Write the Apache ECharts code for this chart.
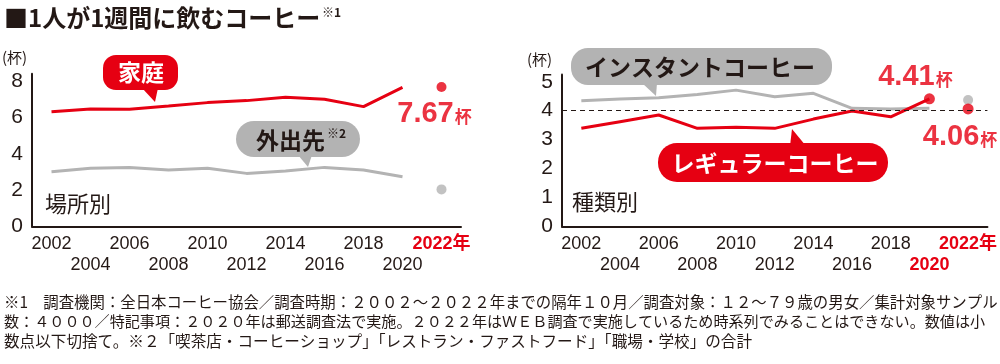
<!DOCTYPE html>
<html>
<head>
<meta charset="utf-8">
<script src="https://cdn.jsdelivr.net/npm/echarts@6/dist/echarts.min.js"></script>
<style>
html,body{margin:0;padding:0;background:#fff;}
#c{width:1000px;height:364px;}
</style>
</head>
<body>
<div id="c"></div>
<script>
// ---- data ----
const years = ['2002','2004','2006','2008','2010','2012','2014','2016','2018','2020','2022'];
const yTicksLeft = [0, 2, 4, 6, 8];
const yTicksRight = [0, 1, 2, 3, 4, 5];
// 場所別
const homeCups    = [6.31, 6.46, 6.44, 6.62, 6.81, 6.92, 7.10, 6.99, 6.59, 7.65, null];
const outsideCups = [3.01, 3.20, 3.25, 3.11, 3.20, 2.92, 3.05, 3.25, 3.11, 2.74, null];
const home2022 = 7.67;
const outside2022 = 2.04;
// 種類別
const instantCups = [4.34, 4.40, 4.45, 4.56, 4.71, 4.48, 4.60, 4.08, 4.06, 4.08, null];
const regularCups = [3.39, 3.62, 3.85, 3.39, 3.43, 3.39, 3.71, 3.99, 3.79, 4.41, null];
const instant2022 = 4.37;
const regular2022 = 4.06;
const regular2020 = 4.41;

const RED = '#e60012';
const GRAY = '#b3b3b3';
const INK = '#231815';
const NUM = "'Liberation Sans', Arial, 'Noto Sans CJK JP', sans-serif";
const JP = "'Noto Sans CJK JP', 'Noto Sans', sans-serif";

const chart = echarts.init(document.getElementById('c'), null, {renderer: 'canvas'});

function xAxisFor(gridIndex, redIdx) {
  return {
    type: 'category', gridIndex: gridIndex, data: years, boundaryGap: true,
    axisTick: {show: false},
    axisLine: {lineStyle: {color: INK, width: 2}},
    axisLabel: {
      interval: 0, margin: 7, fontSize: 18, lineHeight: 21, color: INK, fontFamily: NUM,
      formatter: function (v, i) {
        let t;
        if (i === years.length - 1) t = '{r|' + v + '年}';
        else if (redIdx.indexOf(i) >= 0) t = '{r|' + v + '}';
        else t = v;
        return (i % 2 === 1) ? '\n' + t : t;
      },
      rich: {r: {color: RED, fontWeight: 'bold', fontSize: 18, lineHeight: 21, fontFamily: NUM}}
    }
  };
}
function yAxisFor(gridIndex, max, interval) {
  return {
    type: 'value', gridIndex: gridIndex, min: 0, max: max, interval: interval,
    splitLine: {show: false}, axisTick: {show: false},
    axisLine: {show: true, lineStyle: {color: INK, width: 2}},
    axisLabel: {
      margin: 9, fontSize: 21, color: INK, fontFamily: NUM,
      formatter: function (v) { return Math.abs(v - Math.round(v)) < 1e-9 ? String(Math.round(v)) : ''; }
    }
  };
}
function pts(arr) { return arr.map((v, i) => [years[i], v]); }
function numLabel(txt, off) {
  return {
    show: true, position: 'inside', offset: off,
    formatter: '{n|' + txt + '}{u|杯}',
    rich: {
      n: {fontSize: 29, fontWeight: 'bold', color: RED, fontFamily: NUM},
      u: {fontSize: 17, fontWeight: 'bold', color: RED, fontFamily: JP, padding: [6, 0, 0, 1]}
    }
  };
}

const last = years[years.length - 1];
const prev = years[years.length - 2];

const option = {
  animation: false,
  backgroundColor: '#fff',
  grid: [
    {left: 32, top: 73.7, width: 429, height: 152.8},
    {left: 562, top: 74.5, width: 428, height: 152}
  ],
  xAxis: [xAxisFor(0, []), xAxisFor(1, [9])],
  yAxis: [yAxisFor(0, 8.4, 2), yAxisFor(1, 5.25, 1)],
  series: [
    {type: 'line', xAxisIndex: 0, yAxisIndex: 0, data: pts(homeCups), showSymbol: false, symbol: 'none',
     lineStyle: {color: RED, width: 3}, z: 3},
    {type: 'line', xAxisIndex: 0, yAxisIndex: 0, data: pts(outsideCups), showSymbol: false, symbol: 'none',
     lineStyle: {color: GRAY, width: 3}, z: 2},
    {type: 'scatter', xAxisIndex: 0, yAxisIndex: 0, symbolSize: 10, itemStyle: {color: RED},
     data: [{value: [last, home2022], label: numLabel(String(home2022), [-7, 27])}]},
    {type: 'scatter', xAxisIndex: 0, yAxisIndex: 0, symbolSize: 10, itemStyle: {color: GRAY},
     data: [[last, outside2022]]},

    {type: 'line', xAxisIndex: 1, yAxisIndex: 1, data: pts(instantCups), showSymbol: false, symbol: 'none',
     lineStyle: {color: GRAY, width: 3}, z: 2,
     markLine: {silent: true, symbol: 'none', label: {show: false},
       lineStyle: {color: INK, width: 1, type: [5, 4]}, data: [{yAxis: 4}]}},
    {type: 'line', xAxisIndex: 1, yAxisIndex: 1, data: pts(regularCups), showSymbol: false, symbol: 'none',
     lineStyle: {color: RED, width: 3}, z: 3},
    {type: 'scatter', xAxisIndex: 1, yAxisIndex: 1, symbolSize: 10, itemStyle: {color: GRAY}, z: 3,
     data: [[last, instant2022]]},
    {type: 'scatter', xAxisIndex: 1, yAxisIndex: 1, symbolSize: 11, itemStyle: {color: RED}, z: 4,
     data: [
       {value: [prev, regular2020], label: numLabel(regular2020.toFixed(2), [-14, -22])},
       {value: [last, regular2022], label: numLabel(regular2022.toFixed(2), [-8, 28])}
     ]}
  ],
  graphic: [
    // title
    {type: 'text', left: 4, top: 6, style: {text: '■1人が1週間に飲むコーヒー', font: 'bold 24px ' + JP, fill: INK}},
    {type: 'text', left: 322, top: 6, style: {text: '※1', font: 'bold 12px ' + JP, fill: INK}},
    // units
    {type: 'text', left: 2, top: 50, style: {text: '(杯)', font: '15px ' + JP, fill: INK}},
    {type: 'text', left: 527, top: 52, style: {text: '(杯)', font: '15px ' + JP, fill: INK}},
    // panel names
    {type: 'text', left: 45, top: 193, style: {text: '場所別', font: '22px ' + JP, fill: INK}},
    {type: 'text', left: 572, top: 191, style: {text: '種類別', font: '22px ' + JP, fill: INK}},
    // 家庭 bubble
    {type: 'rect', shape: {x: 103, y: 55, width: 75, height: 35, r: 13}, style: {fill: RED}},
    {type: 'polygon', shape: {points: [[142, 88], [158, 88], [155, 102]]}, style: {fill: RED}},
    {type: 'text', x: 141, y: 72, style: {text: '家庭', font: 'bold 23px ' + JP, fill: '#fff', align: 'center', verticalAlign: 'middle'}},
    // 外出先 bubble
    {type: 'rect', shape: {x: 236, y: 121, width: 124, height: 36, r: 18}, style: {fill: GRAY}},
    {type: 'polygon', shape: {points: [[298, 155], [312, 155], [308, 167]]}, style: {fill: GRAY}},
    {type: 'text', x: 256, y: 140, style: {text: '外出先', font: 'bold 23px ' + JP, fill: INK, verticalAlign: 'middle'}},
    {type: 'text', x: 327, y: 127, style: {text: '※2', font: 'bold 12px ' + JP, fill: INK}},
    // インスタントコーヒー bubble
    {type: 'rect', shape: {x: 571, y: 48, width: 261, height: 37, r: 17}, style: {fill: GRAY}},
    {type: 'polygon', shape: {points: [[642, 83], [657, 83], [656, 96]]}, style: {fill: GRAY}},
    {type: 'text', x: 700, y: 67, style: {text: 'インスタントコーヒー', font: 'bold 23px ' + JP, fill: INK, align: 'center', verticalAlign: 'middle'}},
    // レギュラーコーヒー bubble
    {type: 'rect', shape: {x: 658, y: 143, width: 230, height: 39, r: 19}, style: {fill: RED}},
    {type: 'polygon', shape: {points: [[790, 146], [806, 146], [792, 129]]}, style: {fill: RED}},
    {type: 'text', x: 775, y: 163, style: {text: 'レギュラーコーヒー', font: 'bold 23px ' + JP, fill: '#fff', align: 'center', verticalAlign: 'middle'}},
    // footnotes
    {type: 'text', left: 4, top: 294, style: {text: '※1　調査機関：全日本コーヒー協会／調査時期：２００２～２０２２年までの隔年１０月／調査対象：１２～７９歳の男女／集計対象サンプル', font: '15.4px ' + JP, fill: INK}},
    {type: 'text', left: 4, top: 314, style: {text: '数：４０００／特記事項：２０２０年は郵送調査法で実施。２０２２年はＷＥＢ調査で実施しているため時系列でみることはできない。数値は小', font: '15.1px ' + JP, fill: INK}},
    {type: 'text', left: 4, top: 333, style: {text: '数点以下切捨て。※２「喫茶店・コーヒーショップ」「レストラン・ファストフード」「職場・学校」の合計', font: '15.6px ' + JP, fill: INK}}
  ]
};
chart.setOption(option);
</script>
</body>
</html>
